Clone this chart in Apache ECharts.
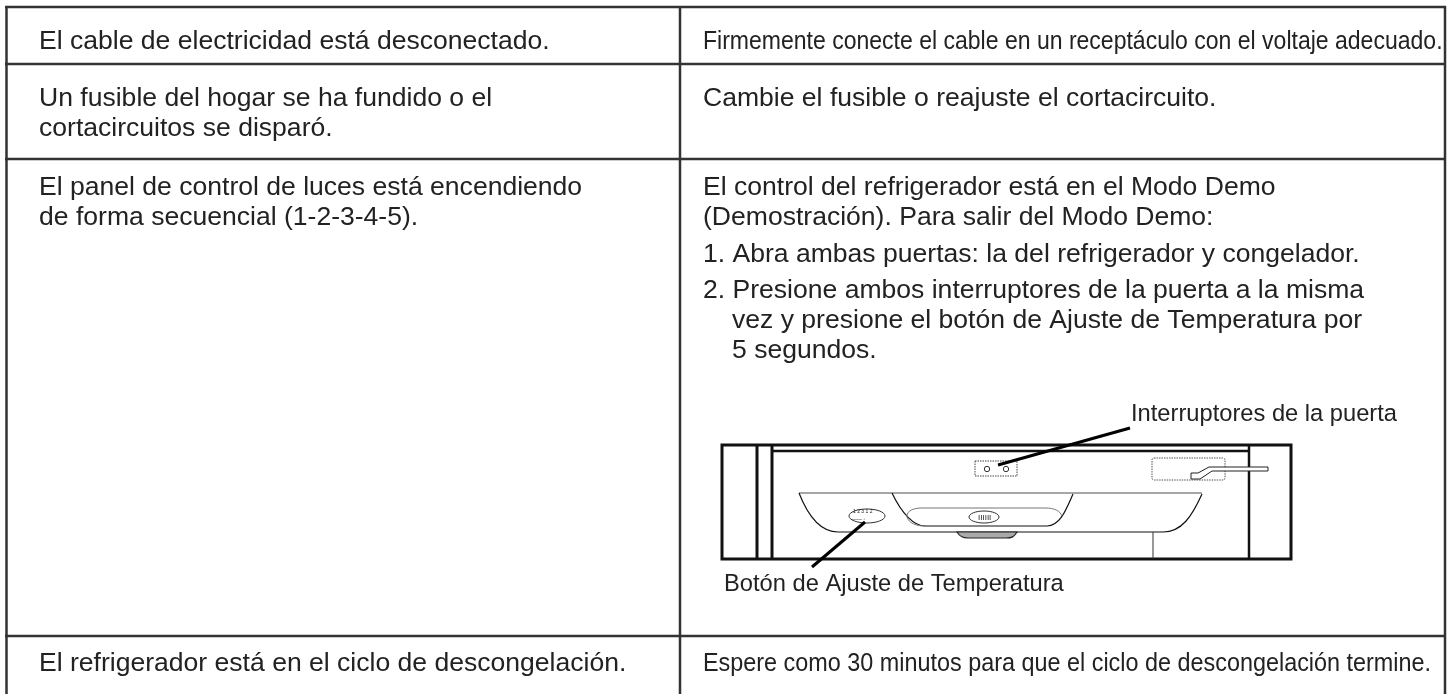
<!DOCTYPE html>
<html><head><meta charset="utf-8">
<style>html,body{margin:0;padding:0;background:#fff}#c{width:1451px;height:694px}</style>
<script src="https://cdn.jsdelivr.net/npm/echarts@6/dist/echarts.min.js"></script></head>
<body><div id="c"></div>
<script>
const causes = [
  ["El cable de electricidad está desconectado."],
  ["Un fusible del hogar se ha fundido o el","cortacircuitos se disparó."],
  ["El panel de control de luces está encendiendo","de forma secuencial (1-2-3-4-5)."],
  ["El refrigerador está en el ciclo de descongelación."]
];
const fixFirst = "Firmemente conecte el cable en un receptáculo con el voltaje adecuado.";
const fixSecond = "Cambie el fusible o reajuste el cortacircuito.";
const fixThird = [
  "El control del refrigerador está en el Modo Demo",
  "(Demostración). Para salir del Modo Demo:",
  "1. Abra ambas puertas: la del refrigerador y congelador.",
  "2. Presione ambos interruptores de la puerta a la misma",
  "vez y presione el botón de Ajuste de Temperatura por",
  "5 segundos."
];
const fixFourth = "Espere como 30 minutos para que el ciclo de descongelación termine.";
const calloutTop = "Interruptores de la puerta";
const calloutBottom = "Botón de Ajuste de Temperatura";

const INK = '#111', FONT = '"Liberation Sans", Arimo, Helvetica, Arial, sans-serif';
const els = [];
const text = (s, x, y, size, sx) => els.push({type:'text', x, y: y-0.35*size, scaleX: sx||1,
  style:{text:s, x:0, y:0, font:`${size}px ${FONT}`, fill:'#222', verticalAlign:'middle', align:'left'}});
const ln = (x1,y1,x2,y2,w,c) => els.push({type:'line', shape:{x1,y1,x2,y2}, style:{stroke:c||INK,lineWidth:w}});
const path = (d, st) => els.push({type:'path', shape:{pathData:d}, style:st});
const rect = (x,y,width,height,st,r) => els.push({type:'rect', shape:{x,y,width,height,r:r||0}, style:st});
const ell = (cx,cy,rx,ry) => els.push({type:'ellipse',shape:{cx,cy,rx,ry},style:{fill:'#fff',stroke:'#333',lineWidth:1}});
const circ = (cx,cy,r) => els.push({type:'circle',shape:{cx,cy,r},style:{fill:'#fff',stroke:'#333',lineWidth:1}});

// table rules
const RULE = '#333';
ln(5,7,1446,7,2.5,RULE);
ln(6.5,6,6.5,694,2.5,RULE);
ln(1445,6,1445,694,2.5,RULE);
ln(680,6,680,694,2.5,RULE);
ln(5,64,1446,64,2.5,RULE);
ln(5,159,1446,159,2.5,RULE);
ln(5,636,1446,636,2.5,RULE);

// left column
const B = 26.55, LX = 39, RX = 703, LEAD = 30;
text(causes[0][0], LX, 51, B);
text(causes[1][0], LX, 108, B); text(causes[1][1], LX, 108+LEAD, B);
text(causes[2][0], LX, 197, B); text(causes[2][1], LX, 197+LEAD, B);
text(causes[3][0], LX, 673, B);
// right column
text(fixFirst, RX, 51, B, 0.867);
text(fixSecond, RX, 108, B);
text(fixThird[0], RX, 197, B);
text(fixThird[1], RX, 227, B);
text(fixThird[2], RX, 264, B);
text(fixThird[3], RX, 300, B);
text(fixThird[4], RX+29, 330, B);
text(fixThird[5], RX+29, 360, B);
text(fixFourth, RX, 673, B, 0.881);
text(calloutTop, 1131, 423, 23.7);
text(calloutBottom, 724, 593, 23.7);

// diagram
const K = {stroke:'#111', fill:'none'};
rect(722,445,569,114,{...K,lineWidth:3});
ln(757,445,757,559,3,'#111'); ln(772,445,772,559,3,'#111'); ln(1249,445,1249,559,2.5,'#111');
ln(772,451,1249,451,2.5,'#111');
ln(799,493,1202,493,1.5,'#888');
path('M799 493 C808 516 820 532 838 532 L1163 532 C1182 532 1192 516 1202 494',{...K,lineWidth:1.2});
path('M892 493 C902 514 914 526 925 526 L1047 526 C1060 526 1066 510 1073 494',{...K,lineWidth:1.2});
path('M925 526 C912 526 907 520 907 516 C907 511 913 508 922 508 L1045 508 C1055 508 1060 511 1062 516',{fill:'none',stroke:'#777',lineWidth:1});
ell(984,517,15,6);
ell(867,516,18,7);
text('IIIIII', 978, 521, 8);
text('1 2 3 1 2', 853, 513, 5); text('—— ◦', 852, 521, 5);
path('M957 532 C960 537 963 538 968 538 L1006 538 C1012 538 1014 537 1017 532 Z',{fill:'#aaa',stroke:'#222',lineWidth:1.2});
ln(1153,532,1153,559,1,'#333');
rect(975,461,42,15,{fill:'none',stroke:'#444',lineWidth:1,lineDash:[1.5,1]});
circ(987,469,2.7); circ(1006,469,2.7);
rect(1152,458,73,22,{fill:'none',stroke:'#555',lineWidth:1,lineDash:[1.5,1]},2);
path('M1191 473 L1198 473 L1209 467 L1268 467 L1268 471 L1212 471 L1200 479 L1191 479 Z',{fill:'#fff',stroke:'#222',lineWidth:1});
ln(1130,428,998,465,3,'#000');
ln(865,522,812,567,3,'#000');

const chart = echarts.init(document.getElementById('c'),null,{renderer:'canvas'});
chart.setOption({animation:false,backgroundColor:'#fff',series:[{type:'custom',coordinateSystem:'none',silent:true,data:[0],
  renderItem:()=>({type:'group',children:els})}]});
</script></body></html>
